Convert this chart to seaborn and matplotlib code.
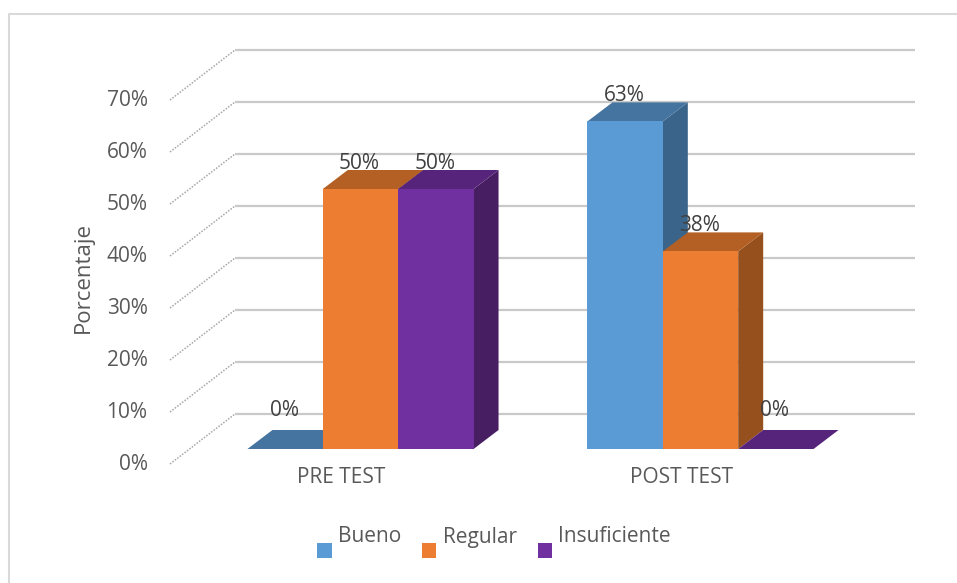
import matplotlib
matplotlib.use("Agg")
import matplotlib.pyplot as plt
import matplotlib.colors as mcolors
import numpy as np
import pandas as pd
import seaborn as sns
from matplotlib.patches import Polygon, Patch, Rectangle
from matplotlib.lines import Line2D
from matplotlib.legend_handler import HandlerPatch
from matplotlib.transforms import ScaledTranslation

# ---- data ----
pruebas = ["PRE TEST", "POST TEST"]
niveles = ["Bueno", "Regular", "Insuficiente"]
bueno = [0, 63]
regular = [50, 38]
insuficiente = [50, 0]
y_ticks = [0, 10, 20, 30, 40, 50, 60, 70]
y_tick_labels = [f"{t}%" for t in y_ticks]

# ---- colours: front, top and side faces of each series ----
front_colors = ["#5B9BD5", "#ED7D31", "#7030A0"]
top_colors = ["#44749F", "#B45F23", "#57247B"]
side_colors = ["#3A6489", "#96501D", "#481E63"]
text_color = "#595959"
label_color = "#404040"

# ---- figure geometry (pixels) ----
W, H, DPI = 957, 583, 100
CAT_PX = 340.0          # distance between the two category centres
PCT_PX = 5.2            # pixels per percentage point
X0_PX, Y0_PX = 360.5, 449.0
AX_L, AX_R, AX_T, AX_B = 160, 930, 30, 466
BAR_DEPTH = (25, 19)    # oblique offset of bar tops / sides
WALL_BACK = (235, 915, 35)   # back wall x-range and lift above the bar plane
WALL_FRONT = (170, 15)       # front end of floor-depth guides

def ux(px):
    return px / CAT_PX

def uy(px):
    return px / PCT_PX

sns.set_theme(style="white")
plt.rcParams["font.family"] = ["Open Sans", "DejaVu Sans"]
FS = 15

df = pd.DataFrame({
    "Prueba": pruebas * 3,
    "Nivel": [n for n in niveles for _ in pruebas],
    "Porcentaje": bueno + regular + insuficiente,
})

fig = plt.figure(figsize=(W / DPI, H / DPI), dpi=DPI)
ax = fig.add_axes([AX_L / W, 1 - AX_B / H, (AX_R - AX_L) / W, (AX_B - AX_T) / H])

sns.barplot(data=df, x="Prueba", y="Porcentaje", hue="Nivel",
            order=pruebas, hue_order=niveles, palette=front_colors,
            saturation=1, width=0.665, gap=0, linewidth=0,
            legend=False, ax=ax)

ax.set_xlim(ux(AX_L - X0_PX), ux(AX_R - X0_PX))
ax.set_ylim(uy(Y0_PX - AX_B), uy(Y0_PX - AX_T))

# ---- back wall gridlines and oblique floor guides ----
bx0, bx1 = ux(WALL_BACK[0] - X0_PX), ux(WALL_BACK[1] - X0_PX)
fx = ux(WALL_FRONT[0] - X0_PX)
for t in y_ticks:
    yb = t + uy(WALL_BACK[2])
    yf = t - uy(WALL_FRONT[1])
    ax.plot([bx0, bx1], [yb, yb], color="#c9c9c9", lw=1.6, zorder=1,
            solid_capstyle="butt", clip_on=False)
    ax.plot([fx, bx0], [yf, yb], color="#a6a6a6", lw=1.1, ls=(0, (1, 1)),
            zorder=1, clip_on=False)

# ---- 3D faces for every bar ----
face_map = {mcolors.to_hex(c): (tc, sc)
            for c, tc, sc in zip(front_colors, top_colors, side_colors)}
ddx, ddy = ux(BAR_DEPTH[0]), uy(BAR_DEPTH[1])
bars = sorted(ax.patches, key=lambda p: p.get_x())
for i, p in enumerate(bars):
    x, w, h = p.get_x(), p.get_width(), p.get_height()
    top_c, side_c = face_map[mcolors.to_hex(p.get_facecolor())]
    base = 3 + i
    p.set_zorder(base + 0.3)
    if h > 0:
        ax.add_patch(Polygon([(x + w, 0), (x + w + ddx, ddy),
                              (x + w + ddx, h + ddy), (x + w, h)],
                             closed=True, facecolor=side_c, edgecolor="none",
                             zorder=base + 0.1))
    ax.add_patch(Polygon([(x, h), (x + w, h), (x + w + ddx, h + ddy),
                          (x + ddx, h + ddy)],
                         closed=True, facecolor=top_c, edgecolor="none",
                         zorder=base + 0.2))
    ax.annotate(f"{h:.0f}%", (x + w / 2, h),
                xytext=(-1, 26 if h > 0 else 39), textcoords="offset pixels",
                ha="center", va="center", fontsize=FS, color=label_color,
                zorder=50)

# ---- axes text ----
ax.set_yticks([t - uy(WALL_FRONT[1]) + uy(2) for t in y_ticks], y_tick_labels)
ax.set_xticks(range(len(pruebas)), pruebas)
ax.tick_params(axis="y", length=0, pad=9, labelsize=FS, labelcolor=text_color)
ax.tick_params(axis="x", length=0, pad=1, labelsize=FS, labelcolor=text_color)
shift = ScaledTranslation(-19 / DPI, 0, fig.dpi_scale_trans)
for lab in ax.get_xticklabels():
    lab.set_transform(lab.get_transform() + shift)
ax.set_xlabel("")
ax.set_ylabel("Porcentaje", fontsize=FS + 1, color=text_color)
ax.yaxis.set_label_coords(-0.086, 0.432)
for s in ax.spines.values():
    s.set_visible(False)
ax.grid(False)
ax.patch.set_alpha(0)


# ---- legend: small squares sitting below the text baseline ----
def low_square(legend, orig_handle, xdescent, ydescent, width, height, fontsize):
    side = width
    return Rectangle((-xdescent, -ydescent + (height - side) / 2 - 0.72 * fontsize),
                     side, side)


handles = [Patch(facecolor=c, edgecolor="none") for c in front_colors]
leg = fig.legend(handles, niveles, loc="center",
                 bbox_to_anchor=(494 / W, 1 - 537 / H), ncol=3, frameon=False,
                 fontsize=FS, handlelength=0.7, handleheight=0.7,
                 handletextpad=0.3, columnspacing=1.0,
                 handler_map={Patch: HandlerPatch(patch_func=low_square)})
for txt in leg.get_texts():
    txt.set_color(text_color)

# ---- chart area border ----
fig.add_artist(Line2D([9 / W, 9 / W, 1.0], [0.0, 1 - 14 / H, 1 - 14 / H],
                      transform=fig.transFigure, color="#d9d9d9", lw=1.5))

fig.savefig("out.png", dpi=DPI, facecolor="white")
